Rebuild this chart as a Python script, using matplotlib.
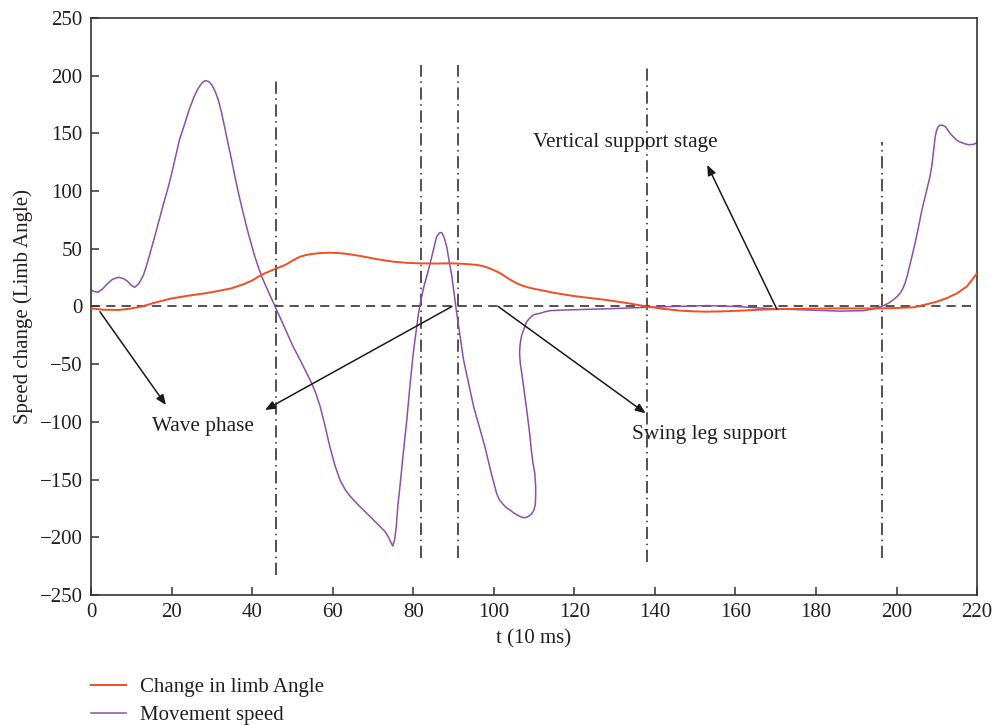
import matplotlib
matplotlib.use("Agg")
import matplotlib.pyplot as plt

plt.rcParams['font.family'] = ['Liberation Serif', 'DejaVu Serif']
plt.rcParams['axes.unicode_minus'] = True

# ---- data ----
angle_t = [0, 3, 6.8, 9.5, 12.6, 16, 20, 24, 28.3, 31.5, 34.9, 38, 40, 41.5, 43, 44, 45, 46.1,
           47.2, 48.2, 50, 51.9, 53.6, 55.5, 57.4, 59.3, 61, 63, 65, 66.8, 71, 75.1, 78.5,
           81.7, 85.5, 89.1, 92.5, 95.8, 97.3, 98.8, 100.2, 101.6, 102.6, 103.7, 104.7,
           105.7, 107, 108.5, 110, 111.5, 115, 119.8, 124, 128.1, 133, 138, 142, 146.3,
           149.5, 152.9, 157, 161.2, 166, 171.1, 178, 186, 191, 196.3, 200, 204.2, 207, 210,
           212.5, 215, 217.5, 220]
angle_v = [-1.6, -2.8, -3, -2, 0, 3.5, 7, 9.3, 11.4, 13.4, 15.8, 19.5, 22.5, 25.8, 28.5, 30,
           31.5, 33.1, 34.6, 36, 39.7, 43.2, 44.8, 45.8, 46.4, 46.6, 46.4, 45.8, 44.8, 43.8,
           41, 38.8, 37.8, 37.4, 37.2, 37.4, 37, 36, 35, 33.3, 31.2, 28.8, 26.5, 24, 22,
           20.1, 18.2, 16.6, 15.3, 14.3, 11.8, 9.1, 7.3, 5.6, 3, 0, -2, -3.6,
           -4.2, -4.5, -4.2, -3.6, -2.8, -2.2, -1.9, -1.6, -1.7, -1.6, -1.3, -0.7, 1.5, 4.2,
           7.3, 11.4, 17.5, 28.8]

speed_t = [0, 0.8, 1.7, 2.8, 4, 5.3, 6.8, 8, 9, 10, 10.8, 11.8, 13, 14, 15.1, 16, 17, 18,
           19.2, 20, 21, 22, 23.3, 24.3, 25.5, 26.5, 27.5, 28.3, 29.2, 30, 30.8, 31.6, 32.4,
           33.2, 34, 34.9, 35.7, 36.5, 37.4, 38.2, 39, 39.8, 40.6, 41.5, 42.5, 43.5, 44.6,
           45.7, 48, 50.2, 52.3, 54.4, 55.7, 56.9, 58, 59.3, 60.5, 61.8, 63, 64, 65.4, 66.8,
           69, 71.8, 73, 73.8, 74.4, 74.9, 75.4, 75.8, 76.2, 76.7, 77.5, 78.4, 79.2, 80,
           80.7, 81.3, 82, 82.7, 83.5, 84.2, 85, 85.8, 86.5, 87.1, 87.7, 88.3, 89, 89.6,
           90.2, 90.8, 91.6, 92.5, 93.7, 95, 96.4, 97.8, 99.2, 100.7, 101.4, 102.2, 103,
           104, 105, 106, 107, 107.8, 108.6, 109.3, 109.9, 110.3, 110.4, 110.4, 110.2,
           109.7, 109.3, 109.0, 108.6, 108.2, 107.8, 107.4, 107, 106.6, 106.4, 106.5, 106.7,
           107, 107.4, 108.2, 109, 109.8, 110.6, 111.5, 112.7, 114, 117, 120, 130, 138, 145,
           152.9, 160, 169.4, 178, 186, 191.8, 194.5, 196.3, 197.3, 198.3, 199.2, 200.1,
           200.9, 201.5, 202.1, 202.6, 203.6, 204.6, 205.4, 206.3, 207.3, 208.3, 208.8,
           209.2, 209.6, 209.9, 210.3, 210.7, 211.2, 211.7, 212.2, 212.7, 213.3, 214.1, 215,
           215.8, 216.6, 217.3, 218, 219.1, 219.6, 220]
speed_v = [14.3, 13, 12.3, 15, 19.5, 23.5, 25.3, 24.3, 22, 18.5, 16.6, 19.5, 27, 38, 51.8, 63,
           76, 89, 103.8, 115, 130, 145, 158.7, 170, 181, 188.5, 193.5, 195.7, 195, 192,
           186.5, 179, 168, 155, 141.5, 127, 113, 100, 86.5, 75, 64, 54, 44, 34.5, 25, 17,
           8.5, 0, -18, -34.8, -49, -63.7, -74, -86.8, -102, -121.5, -137, -150.3, -158,
           -163, -168.5, -173.5, -181, -190.8, -195, -199.5, -204, -207.5, -202, -190, -172,
           -156, -128, -98.4, -68, -40.6, -22, -5.9, 7, 18, 28, 37.4, 49, 60.5, 63.8, 64,
           59.5, 51.8, 38, 25.8, 10, -5.9, -25, -46.4, -66, -86.8, -104, -121.5, -142,
           -161.9, -167.5, -171, -174, -176.3, -179, -181, -182.7, -183, -182, -180, -177,
           -172, -164, -156, -145, -135, -124, -112.8, -101, -90, -80, -69.5, -59, -50,
           -40.6, -34, -29, -24, -20.4, -13, -9.8, -7.4, -6.5, -5.9, -4.6, -3.6, -3.1, -2.8,
           -1.8, -0.7, 0, 0.8, 0, -2, -3, -4, -3.6, -2, 0, 1.6, 3.5, 5.8, 8.5, 11.5, 15, 20,
           25.8, 40, 54.8, 68, 83.6, 98, 112.5, 123, 135, 147, 152, 155.5, 157, 157.3,
           156.6, 155.5, 153, 150, 147, 144, 142.5, 141.4, 140.6, 140.2, 140.5, 141.2, 142.8]

phase_x = [46, 82, 91, 138, 196.5]
phase_top = [195, 209, 209, 207, 142.5]
phase_bottom = [-233, -218, -218, -221, -218]

x_ticks = [0, 20, 40, 60, 80, 100, 120, 140, 160, 180, 200, 220]
y_ticks = [-250, -200, -150, -100, -50, 0, 50, 100, 150, 200, 250]

TXT = '#231f20'
FS = 15
FS_ANN = 15.3

fig = plt.figure(figsize=(9.96, 7.25), dpi=100)
ax = fig.add_axes([0.0914, 0.1793, 0.8896, 0.7959])

ax.axhline(0, color='#222222', lw=1.1, ls=(0, (6, 4)), zorder=1)
for x, t, b in zip(phase_x, phase_top, phase_bottom):
    ax.plot([x, x], [b, t], color='#222222', lw=1.1, ls=(0, (8, 3, 1, 3)), zorder=1)

l1, = ax.plot(angle_t, angle_v, color='#f04e23', lw=1.4, label='Change in limb Angle',
              zorder=3, solid_joinstyle='round')
l2, = ax.plot(speed_t, speed_v, color='#8c4fa8', lw=1.1, label='Movement speed', zorder=2,
              solid_joinstyle='round')

arrow = dict(arrowstyle='-|>,head_length=0.6,head_width=0.25', color='#1a1a1a', lw=1.1,
             shrinkA=0, shrinkB=0)
ax.annotate('', xy=(18.6, -85.4), xytext=(2.2, -4.5), arrowprops=arrow)
ax.annotate('', xy=(43.2, -89.7), xytext=(89.6, 0), arrowprops=arrow)
ax.annotate('', xy=(137.7, -92.5), xytext=(101.1, 0), arrowprops=arrow)
ax.annotate('', xy=(153.0, 122.6), xytext=(170.3, -2.4), arrowprops=arrow)

ax.text(15.1, -104, 'Wave phase', fontsize=FS_ANN, color=TXT, va='center', ha='left')
ax.text(134.3, -110.5, 'Swing leg support', fontsize=FS_ANN, color=TXT, va='center', ha='left')
ax.text(109.8, 141.7, 'Vertical support stage', fontsize=FS_ANN, color=TXT, va='center',
        ha='left')

ax.set_xlim(0, 220)
ax.set_ylim(-250, 250)
ax.set_xticks(x_ticks)
ax.set_yticks(y_ticks)
ax.tick_params(direction='in', length=6, width=1.1, colors='#333333', labelcolor=TXT,
               labelsize=FS, top=False, right=False, pad=6)
for s in ax.spines.values():
    s.set_color('#333333')
    s.set_linewidth(1.2)

ax.set_xlabel('t (10 ms)', fontsize=FS, color=TXT, labelpad=5)
ax.set_ylabel('Speed change (Limb Angle)', fontsize=FS, color=TXT, labelpad=5)

fig.legend(handles=[l1, l2], loc='upper left', bbox_to_anchor=(0.0915, 0.0655),
           frameon=False, fontsize=FS, handlelength=1.68, handletextpad=0.67,
           labelspacing=0.41, borderpad=0.0, borderaxespad=0.0, labelcolor=TXT)

fig.savefig('out.png', dpi=100)
